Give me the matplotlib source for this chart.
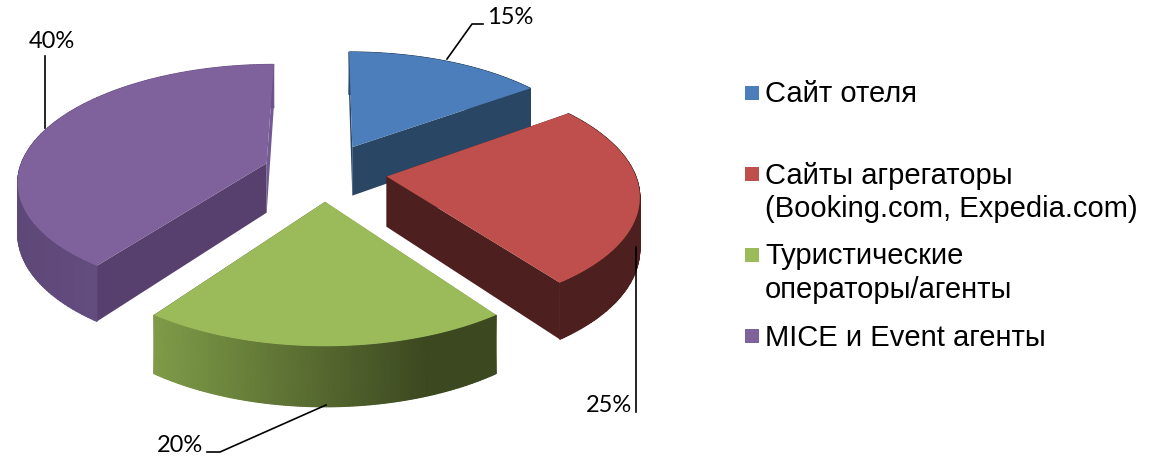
import numpy as np
import matplotlib
matplotlib.use("Agg")
import matplotlib.pyplot as plt

# chart data
categories = ["Сайт отеля", "Сайты агрегаторы\n(Booking.com, Expedia.com)",
              "Туристические\nоператоры/агенты", "MICE и Event агенты"]
shares = [15, 25, 20, 40]
share_labels = ["15%", "25%", "20%", "40%"]
top_colors = ["#4C7EBB", "#BF4F4C", "#9BBA59", "#7F629C"]
cut_colors = ["#2A4665", "#4D1F1E", "#76923C", "#57406D"]
end_cut_colors = ["#2A4665", "#4D1F1E", "#3C4820", "#735A92"]
# rim colour at the left and right end of each slice's rim
rim_left = ["#2A4665", "#4D1F1E", "#7F9C48", "#5E4878"]
rim_right = ["#2A4665", "#4D1F1E", "#3C4820", "#6C5489"]

# 3d look of the pie, in pixels of the reference
cx, cy = 325, 172
ax_r, ay_r = 248, 115
persp = 0.14
depth = 50
explode = 0.25

plt.rcParams["font.family"] = ["Liberation Sans", "DejaVu Sans"]
fig = plt.figure(figsize=(11.5, 4.58), dpi=100)
ax = fig.add_axes([0, 0, 1, 1])
ax.set_xlim(0, 1150)
ax.set_ylim(458, 0)
ax.axis("off")


def project(a, r, off, z=0.0):
    # a = clockwise from top in radians, r = radius, off = world offset
    wx = off[0] + r * np.sin(a)
    wy = off[1] + r * np.cos(a)
    d = 1 + persp * wy
    return cx + ax_r * wx / d, cy - ay_r * wy / d + z * depth / d


def hex_rgb(c):
    return np.array([int(c[k:k + 2], 16) / 255 for k in (1, 3, 5)])


starts = np.cumsum([0] + shares[:-1]) * 3.6
ends = np.cumsum(shares) * 3.6
wedges = []
for i in range(len(shares)):
    a0, a1 = np.radians(starts[i]), np.radians(ends[i])
    mid = (a0 + a1) / 2
    off = (explode * np.sin(mid), explode * np.cos(mid))
    wedges.append((a0, a1, off))

# painter's order, back to front
for i in [0, 3, 1, 2]:
    a0, a1, off = wedges[i]
    arc = np.linspace(a0, a1, 160)
    # cut faces
    for a, col in ((a0, cut_colors[i]), (a1, end_cut_colors[i])):
        xs0, ys0 = project(a, np.array([0.0, 1.0]), off)
        xs1, ys1 = project(a, np.array([1.0, 0.0]), off, 1.0)
        ax.fill(np.r_[xs0, xs1], np.r_[ys0, ys1], color=col, lw=0, zorder=i)
    # outer rim, gradient runs along x
    xt, yt = project(arc, 1.0, off)
    xb, yb = project(arc, 1.0, off, 1.0)
    t = np.clip((xt - xt.min()) / (xt.max() - xt.min()) / 0.8, 0, 1)
    rgb = hex_rgb(rim_left[i])[None, :] * (1 - t)[:, None] + hex_rgb(rim_right[i])[None, :] * t[:, None]
    ax.pcolormesh(np.c_[xt, xb], np.c_[yt, yb], np.stack([rgb, rgb], axis=1),
                  shading="gouraud", zorder=i + 0.1)
    # top face
    x0, y0 = project(0.0, 0.0, off)
    ax.fill(np.r_[x0, xt], np.r_[y0, yt], color=top_colors[i], lw=0, zorder=i + 0.2)

# value labels with leader lines
lbl_x = [510.5, 609, 180, 52]
lbl_y = [17, 405, 445, 42]
lead_x = [[483, 472, 447], [636, 636], [207, 220, 326], [45, 45]]
lead_y = [[24, 24, 59], [412, 247], [452, 452, 405], [56, 128]]
for i in range(4):
    ax.plot(lead_x[i], lead_y[i], color="black", lw=1.2, zorder=10)
    ax.text(lbl_x[i], lbl_y[i], share_labels[i], ha="center", va="center", fontsize=17,
            family=["Lato", "DejaVu Sans"], zorder=11)

# legend
leg_y = [92.5, 173.5, 254.5, 335.5]
for i in range(4):
    ax.scatter([751.5], [leg_y[i]], marker="s", s=116, color=top_colors[i], lw=0)
    ax.text(765, leg_y[i] - 12, categories[i], ha="left", va="top", fontsize=21, linespacing=1.24)

fig.savefig("out.png", dpi=100)
